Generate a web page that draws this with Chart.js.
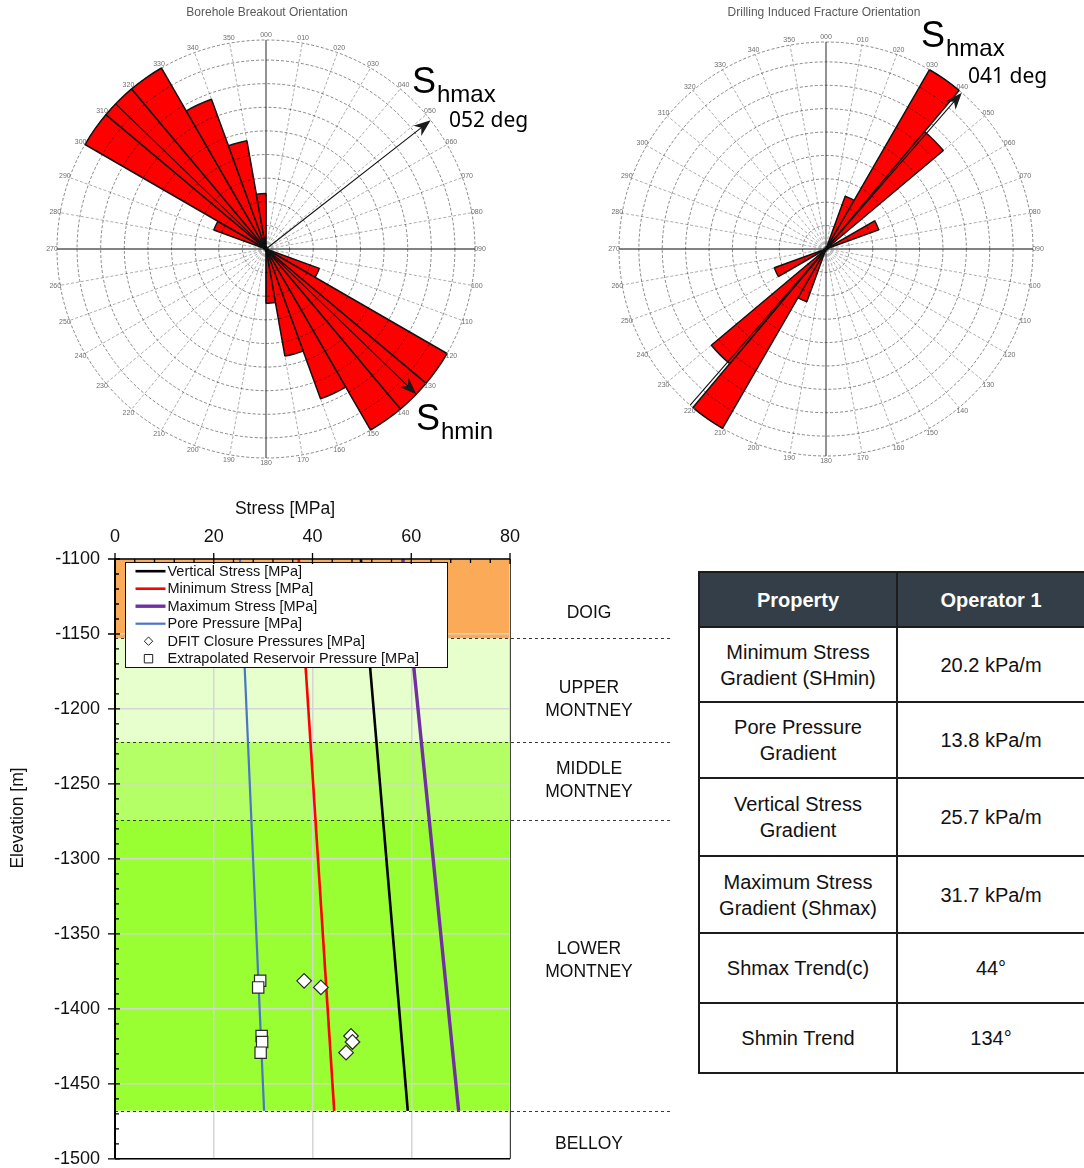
<!DOCTYPE html>
<html>
<head>
<meta charset="utf-8">
<title>Stress orientation and stress profile</title>
<script src="https://cdn.jsdelivr.net/npm/chart.js@4.4.1/dist/chart.umd.min.js"></script>
<style>
  html, body { margin: 0; padding: 0; background: #ffffff; }
  body { width: 1084px; height: 1168px; position: relative; overflow: hidden;
         font-family: "Liberation Sans", Arial, Helvetica, sans-serif; }
  .panel { position: absolute; }
  #roseLeftBox  { left: 0;     top: 0;     width: 545px; height: 470px; }
  #roseRightBox { left: 545px; top: 0;     width: 539px; height: 470px; }
  #profileBox   { left: 0;     top: 490px; width: 680px; height: 678px; }
  #gradients { position: absolute; left: 698px; top: 571px; width: 388px;
               border-collapse: collapse; table-layout: fixed;
               font-family: "Liberation Sans", Arial, Helvetica, sans-serif; font-size: 20px; }
  #gradients td, #gradients th { border: 2px solid #1c1c1c; text-align: center; vertical-align: middle;
               padding: 0 4px; line-height: 26px; white-space: pre-line; color: #111; }
  #gradients th { background: #333e48; color: #ffffff; font-weight: bold; }
</style>
</head>
<body>
<div class="panel" id="roseLeftBox"><canvas id="roseLeft" width="545" height="470"></canvas></div>
<div class="panel" id="roseRightBox"><canvas id="roseRight" width="539" height="470"></canvas></div>
<div class="panel" id="profileBox"><canvas id="profile" width="680" height="678"></canvas></div>
<table id="gradients"></table>

<script>
// ---------------- rose diagrams: 10 degree azimuth bins ----------------
const sectorLabels = ['000','010','020','030','040','050','060','070','080','090','100','110',
                      '120','130','140','150','160','170','180','190','200','210','220','230',
                      '240','250','260','270','280','290','300','310','320','330','340','350'];
const breakoutCounts = [0, 0, 0, 0, 0, 0, 0, 0, 0, 0, 0, 2.4,
                        8.85, 8.85, 8.85, 6.75, 4.6, 2.3, 0, 0, 0, 0, 0, 0,
                        0, 0, 0, 0, 0, 2.35, 8.85, 8.85, 8.85, 6.75, 4.65, 2.35];
const fractureCounts = [0, 0, 2.4, 8.85, 6.55, 0, 2.4, 0, 0, 0, 0, 0,
                        0, 0, 0, 0, 0, 0, 0, 0, 2.4, 8.85, 6.4, 0,
                        2.35, 0, 0, 0, 0, 0, 0, 0, 0, 0, 0, 0];
const ringValues = [0, 1, 2, 3, 4, 5, 6, 7, 8, 8.85];
const breakoutShmaxDeg = 52;
const breakoutShminDeg = 134;
const fractureShmaxDeg = 41;

// ---------------- stress profile ----------------
const lineElevations   = [-1100, -1468];
const verticalStress   = [49.8, 59.3];
const minimumStress    = [37.2, 44.4];
const maximumStress    = [58.3, 69.6];
const porePressure     = [25.3, 30.2];
const dfitStress       = [38.3, 41.7, 47.8, 48.1, 46.8];
const dfitElevation    = [-1381.3, -1385.7, -1418.1, -1422.1, -1429.2];
const reservoirPressure  = [29.4, 29.0, 29.7, 29.8, 29.5];
const reservoirElevation = [-1381.3, -1385.7, -1418.1, -1422.1, -1429.2];
const formationNames  = ['DOIG', 'UPPER\nMONTNEY', 'MIDDLE\nMONTNEY', 'LOWER\nMONTNEY', 'BELLOY'];
const formationTops   = [-1100, -1153, -1222, -1274, -1468];
const formationBases  = [-1153, -1222, -1274, -1468, -1500];
const seriesNames = ['Vertical Stress [MPa]', 'Minimum Stress [MPa]', 'Maximum Stress [MPa]',
                     'Pore Pressure [MPa]', 'DFIT Closure Pressures [MPa]', 'Extrapolated Reservoir Pressure [MPa]'];

// ---------------- gradient table ----------------
const tableHeader = ['Property', 'Operator 1'];
const tableProperties = ['Minimum Stress\nGradient (SHmin)', 'Pore Pressure\nGradient', 'Vertical Stress\nGradient',
                         'Maximum Stress\nGradient (Shmax)', 'Shmax Trend(c)', 'Shmin Trend'];
const tableValues = ['20.2 kPa/m', '13.8 kPa/m', '25.7 kPa/m', '31.7 kPa/m', '44°', '134°'];

const SANS = '"Liberation Sans", Arial, Helvetica, sans-serif';
const LABEL_FONT = '"Noto Sans", "Liberation Sans", Arial, sans-serif';

// ---------- helpers ----------
function drawArrow(ctx, x0, y0, x1, y1) {
  const ang = Math.atan2(y1 - y0, x1 - x0);
  const len = 17, half = 6.5;
  const c = Math.cos(ang), s = Math.sin(ang);
  const bx = x1 - c * len, by = y1 - s * len;
  ctx.save();
  ctx.strokeStyle = '#111';
  ctx.lineWidth = 1.1;
  ctx.beginPath();
  ctx.moveTo(x0, y0);
  ctx.lineTo(x1 - c * len * 0.6, y1 - s * len * 0.6);
  ctx.stroke();
  ctx.fillStyle = '#1a1a1a';
  ctx.beginPath();
  ctx.moveTo(x1, y1);
  ctx.lineTo(bx - s * half, by + c * half);
  ctx.lineTo(x1 - c * len * 0.7, y1 - s * len * 0.7);
  ctx.lineTo(bx + s * half, by - c * half);
  ctx.closePath();
  ctx.fill();
  ctx.restore();
}

function drawStressSymbol(ctx, x, baseline, sub) {
  ctx.save();
  ctx.fillStyle = '#000';
  ctx.textAlign = 'left';
  ctx.textBaseline = 'alphabetic';
  ctx.font = '36px ' + SANS;
  ctx.fillText('S', x, baseline);
  const w = ctx.measureText('S').width;
  ctx.font = '24px ' + SANS;
  ctx.fillText(sub, x + w + 1, baseline + 9);
  ctx.restore();
}

function azimuthPoint(scale, deg, value) {
  const a = deg * Math.PI / 180 - Math.PI / 2;
  const d = scale.getDistanceFromCenterForValue(value);
  return { x: scale.xCenter + Math.cos(a) * d, y: scale.yCenter + Math.sin(a) * d };
}

// rose decorations: azimuth labels, title, stress arrows and their captions
const roseDecor = {
  id: 'roseDecor',
  afterDraw(chart, args, opts) {
    const ctx = chart.ctx;
    const r = chart.scales.r;
    // azimuth labels around the rim
    ctx.save();
    ctx.font = '7px ' + SANS;
    ctx.fillStyle = '#6e6e6e';
    ctx.textAlign = 'center';
    ctx.textBaseline = 'middle';
    chart.data.labels.forEach((lab, i) => {
      const p = r.getPointPosition(i, r.drawingArea + 5);
      ctx.fillText(lab, p.x, p.y);
    });
    ctx.restore();
    // title
    ctx.save();
    ctx.font = '12px ' + SANS;
    ctx.fillStyle = '#5a5a5a';
    ctx.textAlign = 'center';
    ctx.textBaseline = 'middle';
    ctx.fillText(opts.title, opts.titleX, 13);
    ctx.restore();
    // arrows
    opts.arrows.forEach(a => {
      const tip = azimuthPoint(r, a.deg, r.max);
      const tail = a.fromCenter ? { x: r.xCenter, y: r.yCenter } : azimuthPoint(r, a.deg + 180, r.max);
      drawArrow(ctx, tail.x, tail.y, tip.x, tip.y);
    });
    // captions
    opts.captions.forEach(c => {
      drawStressSymbol(ctx, c.x, c.y, c.sub);
      if (c.deg !== undefined) {
        ctx.save();
        ctx.font = '21px ' + LABEL_FONT;
        ctx.fillStyle = '#000';
        ctx.textAlign = 'left';
        ctx.textBaseline = 'middle';
        ctx.fillText(String(c.deg).padStart(3, '0') + ' deg', c.degX, c.degY);
        ctx.restore();
      }
    });
  }
};

function roseConfig(counts, padding, decor) {
  return {
    type: 'polarArea',
    data: {
      labels: sectorLabels,
      datasets: [{
        data: counts,
        backgroundColor: '#ff0000',
        borderColor: '#161616',
        borderWidth: c => (c.raw > 0 ? 1.5 : 0),
        borderAlign: 'center'
      }]
    },
    options: {
      responsive: false,
      animation: false,
      layout: { padding },
      plugins: { legend: { display: false }, tooltip: { enabled: false }, roseDecor: decor },
      scales: {
        r: {
          min: 0,
          max: ringValues[ringValues.length - 1],
          startAngle: 0,
          afterBuildTicks: s => { s.ticks = ringValues.map(v => ({ value: v })); },
          ticks: { display: false },
          pointLabels: { display: false },
          grid: { circular: true, color: 'rgba(0,0,0,0.55)', lineWidth: 0.85, z: 1 },
          border: { dash: [3, 2] },
          angleLines: {
            display: true,
            color: c => (c.index % 9 === 0 ? 'rgba(0,0,0,0.65)' : 'rgba(0,0,0,0.5)'),
            lineWidth: c => (c.index % 9 === 0 ? 1.3 : 0.65),
            borderDash: c => (c.index % 9 === 0 ? [] : [3, 2])
          }
        }
      }
    },
    plugins: [roseDecor]
  };
}

new Chart(document.getElementById('roseLeft'), roseConfig(
  breakoutCounts,
  { left: 57, top: 40, right: 69, bottom: 11 },
  {
    title: 'Borehole Breakout Orientation', titleX: 267,
    arrows: [{ deg: breakoutShmaxDeg, fromCenter: true }, { deg: breakoutShminDeg, fromCenter: false }],
    captions: [
      { x: 412, y: 93, sub: 'hmax', deg: breakoutShmaxDeg, degX: 449, degY: 121 },
      { x: 416, y: 430, sub: 'hmin' }
    ]
  }
));

new Chart(document.getElementById('roseRight'), roseConfig(
  fractureCounts,
  { left: 74, top: 42, right: 50, bottom: 13 },
  {
    title: 'Drilling Induced Fracture Orientation', titleX: 279,
    arrows: [{ deg: fractureShmaxDeg, fromCenter: false }],
    captions: [
      { x: 376, y: 47, sub: 'hmax', deg: fractureShmaxDeg, degX: 423, degY: 77 }
    ]
  }
));

// ---------------- stress profile chart ----------------
const formationColors = ['#fbab57', '#e6ffcc', '#b5ff66', '#99ff33', '#ffffff'];

const profileDecor = {
  id: 'profileDecor',
  beforeDraw(chart) {
    const { ctx, chartArea: a, scales: { y } } = chart;
    ctx.save();
    formationTops.forEach((top, i) => {
      const y0 = y.getPixelForValue(top), y1 = y.getPixelForValue(formationBases[i]);
      ctx.fillStyle = formationColors[i];
      ctx.fillRect(a.left, y0, a.right - a.left, y1 - y0);
    });
    ctx.restore();
  },
  beforeDatasetsDraw(chart) {
    const { ctx, chartArea: a, scales: { y } } = chart;
    ctx.save();
    ctx.strokeStyle = '#3a3a3a';
    ctx.lineWidth = 1;
    ctx.setLineDash([3, 3]);
    formationBases.slice(0, -1).forEach(b => {
      const py = Math.round(y.getPixelForValue(b)) + 0.5;
      ctx.beginPath();
      ctx.moveTo(a.left, py);
      ctx.lineTo(670, py);
      ctx.stroke();
    });
    ctx.restore();
  },
  afterDatasetsDraw(chart) {
    const { ctx, chartArea: a } = chart;
    const bx = a.left + 10.5, by = a.top + 3.5, bw = 322, bh = 105;
    ctx.save();
    ctx.fillStyle = '#ffffff';
    ctx.fillRect(bx, by, bw, bh);
    ctx.strokeStyle = '#111';
    ctx.lineWidth = 1;
    ctx.strokeRect(bx, by, bw, bh);
    ctx.font = '14.5px ' + SANS;
    ctx.fillStyle = '#111';
    ctx.textBaseline = 'middle';
    ctx.textAlign = 'left';
    chart.data.datasets.forEach((ds, i) => {
      const ry = by + 8.7 + i * 17.5;
      if (ds.showLine) {
        ctx.strokeStyle = ds.borderColor;
        ctx.lineWidth = ds.borderWidth;
        ctx.beginPath();
        ctx.moveTo(bx + 10, ry);
        ctx.lineTo(bx + 40, ry);
        ctx.stroke();
      } else {
        const cx = bx + 23, s = 4.2;
        ctx.fillStyle = '#fff';
        ctx.strokeStyle = '#222';
        ctx.lineWidth = 1;
        ctx.beginPath();
        if (ds.pointStyle === 'rectRot') {
          ctx.moveTo(cx, ry - s); ctx.lineTo(cx + s, ry); ctx.lineTo(cx, ry + s); ctx.lineTo(cx - s, ry);
          ctx.closePath();
        } else {
          ctx.rect(cx - s, ry - s, 2 * s, 2 * s);
        }
        ctx.fill();
        ctx.stroke();
        ctx.fillStyle = '#111';
      }
      ctx.fillText(ds.label, bx + 42, ry + 0.5);
    });
    ctx.restore();
  },
  afterDraw(chart) {
    const { ctx, chartArea: a, scales: { x, y } } = chart;
    ctx.save();
    // frame
    ctx.strokeStyle = '#000';
    ctx.lineWidth = 1.5;
    ctx.beginPath();
    ctx.moveTo(a.left, a.top); ctx.lineTo(a.right, a.top);
    ctx.moveTo(a.left, a.bottom); ctx.lineTo(a.right, a.bottom);
    ctx.stroke();
    ctx.lineWidth = 2;
    ctx.beginPath();
    ctx.moveTo(a.left, a.top); ctx.lineTo(a.left, a.bottom);
    ctx.stroke();
    ctx.strokeStyle = '#444';
    ctx.lineWidth = 1;
    ctx.beginPath();
    ctx.moveTo(a.right + 0.5, a.top); ctx.lineTo(a.right + 0.5, a.bottom);
    ctx.stroke();
    // tick marks
    ctx.strokeStyle = '#000';
    ctx.lineWidth = 1.3;
    ctx.beginPath();
    for (let v = y.min; v <= y.max; v += 10) {
      const py = y.getPixelForValue(v);
      const major = v % 50 === 0;
      ctx.moveTo(major ? a.left - 7 : a.left, py);
      ctx.lineTo(a.left + (major ? 5 : 4), py);
    }
    for (let v = x.min; v <= x.max; v += 4) {
      const px = x.getPixelForValue(v);
      const major = v % 20 === 0;
      ctx.moveTo(px, major ? a.top - 6 : a.top);
      ctx.lineTo(px, a.top + (major ? 5 : 4));
    }
    ctx.stroke();
    // axis titles
    ctx.fillStyle = '#111';
    ctx.font = '17.5px ' + SANS;
    ctx.textAlign = 'center';
    ctx.textBaseline = 'middle';
    ctx.fillText('Stress [MPa]', 285, 19);
    ctx.translate(18, 328);
    ctx.rotate(-Math.PI / 2);
    ctx.fillText('Elevation [m]', 0, 0);
    ctx.restore();
    // formation names
    ctx.save();
    ctx.fillStyle = '#111';
    ctx.font = '17.5px ' + SANS;
    ctx.textAlign = 'center';
    ctx.textBaseline = 'middle';
    const labelCentres = [123, 209.5, 290.5, 470.5, 654];
    formationNames.forEach((name, i) => {
      const lines = name.split('\n');
      lines.forEach((ln, k) => {
        ctx.fillText(ln, 589, labelCentres[i] + (k - (lines.length - 1) / 2) * 23);
      });
    });
    ctx.restore();
  }
};

const toPoints = (xs, ys) => xs.map((v, i) => ({ x: v, y: ys[i] }));

new Chart(document.getElementById('profile'), {
  type: 'scatter',
  data: {
    datasets: [
      { label: seriesNames[0], data: toPoints(verticalStress, lineElevations), showLine: true, order: 2,
        borderColor: '#000000', borderWidth: 2.6, pointRadius: 0 },
      { label: seriesNames[1], data: toPoints(minimumStress, lineElevations), showLine: true, order: 2,
        borderColor: '#ff0000', borderWidth: 2.6, pointRadius: 0 },
      { label: seriesNames[2], data: toPoints(maximumStress, lineElevations), showLine: true, order: 2,
        borderColor: '#7030a0', borderWidth: 3.4, pointRadius: 0 },
      { label: seriesNames[3], data: toPoints(porePressure, lineElevations), showLine: true, order: 2,
        borderColor: '#4a76c8', borderWidth: 2.2, pointRadius: 0 },
      { label: seriesNames[4], data: toPoints(dfitStress, dfitElevation), showLine: false, order: 1,
        pointStyle: 'rectRot', pointRadius: 7.3, backgroundColor: '#ffffff', borderColor: '#2a2a2a', borderWidth: 1.2 },
      { label: seriesNames[5], data: toPoints(reservoirPressure, reservoirElevation), showLine: false, order: 0,
        pointStyle: 'rect', pointRadius: 8, backgroundColor: '#ffffff', borderColor: '#2a2a2a', borderWidth: 1.2 }
    ]
  },
  options: {
    responsive: false,
    animation: false,
    layout: { padding: { left: 0, top: 0, right: 170, bottom: 8 } },
    plugins: { legend: { display: false }, tooltip: { enabled: false } },
    scales: {
      x: {
        type: 'linear', position: 'top', min: 0, max: 80,
        ticks: { stepSize: 20, padding: 11, color: '#111', font: { size: 18, family: SANS },
                 callback: v => String(v) },
        grid: { color: '#d5d5d5', lineWidth: 1.5, drawTicks: false },
        border: { display: false },
        afterFit: s => { s.height = 69; s.paddingLeft = 0; s.paddingRight = 0; }
      },
      y: {
        type: 'linear', min: -1500, max: -1100,
        ticks: { stepSize: 50, padding: 15, color: '#111', font: { size: 18, family: SANS },
                 callback: v => String(v) },
        grid: { color: '#d5d5d5', lineWidth: 1.5, drawTicks: false },
        border: { display: false },
        afterFit: s => { s.width = 115; s.paddingTop = 0; s.paddingBottom = 0; }
      }
    }
  },
  plugins: [profileDecor]
});

// ---------------- table ----------------
(function buildTable() {
  const t = document.getElementById('gradients');
  const rowHeights = [55, 75, 76, 78, 77, 70, 70];
  const colgroup = document.createElement('colgroup');
  [198, 188].forEach(w => { const c = document.createElement('col'); c.style.width = w + 'px'; colgroup.appendChild(c); });
  t.appendChild(colgroup);
  const head = document.createElement('tr');
  head.style.height = rowHeights[0] + 'px';
  tableHeader.forEach(h => { const th = document.createElement('th'); th.textContent = h; head.appendChild(th); });
  t.appendChild(head);
  tableProperties.forEach((p, i) => {
    const tr = document.createElement('tr');
    tr.style.height = rowHeights[i + 1] + 'px';
    [p, tableValues[i]].forEach(txt => { const td = document.createElement('td'); td.textContent = txt; tr.appendChild(td); });
    t.appendChild(tr);
  });
})();
</script>
</body>
</html>
